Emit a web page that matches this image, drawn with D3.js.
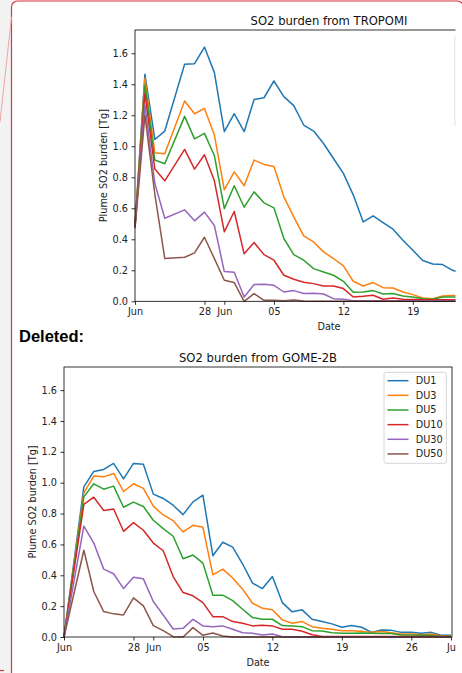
<!DOCTYPE html>
<html>
<head>
<meta charset="utf-8">
<script src="https://cdn.jsdelivr.net/npm/d3@7"></script>
<style>
  html, body { margin: 0; padding: 0; background: #f2f2f2; }
  svg { display: block; }
  text { font-family: "DejaVu Sans", sans-serif; }
</style>
</head>
<body>
<svg id="chart" width="462" height="673"></svg>
<script>
// ---------------- DATA ----------------
const seriesNames = ["DU1", "DU3", "DU5", "DU10", "DU30", "DU50"];
const seriesColors = ["#1f77b4", "#ff7f0e", "#2ca02c", "#d62728", "#9467bd", "#8c564b"];

const xTickDays = [0, 7, 9, 14, 21, 28, 35, 39];
const xTickLabels = ["Jun", "28", "Jun", "05", "12", "19", "26", "Ju"];
const yTicks = [0, 0.2, 0.4, 0.6, 0.8, 1.0, 1.2, 1.4, 1.6];

// TROPOMI (days since first tick)
const tropDays = [0, 1, 2, 3, 5, 6, 7, 8, 9, 10, 11, 12, 13, 14, 15, 16, 17, 18, 19, 20, 21, 22, 23, 24, 25, 26, 27, 28, 29, 30, 31, 32, 33];
const tropDU1  = [0.49, 1.464, 1.044, 1.098, 1.529, 1.533, 1.640, 1.475, 1.094, 1.210, 1.094, 1.302, 1.313, 1.421, 1.320, 1.262, 1.137, 1.098, 1.018, 0.921, 0.825, 0.685, 0.512, 0.551, 0.508, 0.465, 0.394, 0.329, 0.263, 0.241, 0.237, 0.200, 0.180];
const tropDU3  = [0.49, 1.438, 0.958, 0.952, 1.292, 1.210, 1.244, 1.072, 0.719, 0.835, 0.745, 0.911, 0.883, 0.870, 0.674, 0.545, 0.422, 0.383, 0.319, 0.276, 0.228, 0.129, 0.099, 0.121, 0.088, 0.086, 0.060, 0.043, 0.022, 0.017, 0.034, 0.037, 0.037];
const tropDU5  = [0.49, 1.395, 0.911, 0.887, 1.193, 1.048, 1.083, 0.939, 0.598, 0.745, 0.607, 0.706, 0.635, 0.603, 0.405, 0.301, 0.265, 0.211, 0.189, 0.168, 0.129, 0.058, 0.060, 0.069, 0.047, 0.050, 0.034, 0.028, 0.017, 0.013, 0.028, 0.028, 0.028];
const tropDU10 = [0.48, 1.341, 0.853, 0.777, 0.980, 0.853, 0.945, 0.777, 0.448, 0.579, 0.306, 0.379, 0.301, 0.265, 0.168, 0.142, 0.123, 0.114, 0.099, 0.099, 0.082, 0.028, 0.032, 0.039, 0.013, 0.022, 0.013, 0.011, 0.010, 0.010, 0.010, 0.010, 0.010];
const tropDU30 = [0.48, 1.266, 0.760, 0.536, 0.590, 0.519, 0.575, 0.489, 0.192, 0.187, 0.028, 0.108, 0.110, 0.103, 0.060, 0.069, 0.050, 0.052, 0.047, 0.017, 0.013, 0.003, 0.003, 0.003, 0.003, 0.003, 0.003, 0.003, 0.003, 0.003, 0.003, 0.003, 0.003];
const tropDU50 = [0.47, 1.201, 0.690, 0.276, 0.284, 0.312, 0.413, 0.275, 0.136, 0.121, 0.000, 0.050, 0.006, 0.006, 0.004, 0.009, 0.002, 0.000, 0.000, 0.000, 0.000, 0.000, 0.000, 0.000, 0.000, 0.000, 0.000, 0.000, 0.000, 0.000, 0.000, 0.000, 0.000];

// GOME-2B
const gomeDays = [0, 2, 3, 4, 5, 6, 7, 8, 9, 10, 11, 12, 13, 14, 15, 16, 17, 18, 19, 20, 21, 22, 23, 24, 25, 26, 27, 28, 29, 30, 31, 32, 33, 34, 35, 36, 37, 38, 39];
const gomeDU1  = [0, 0.973, 1.073, 1.086, 1.125, 1.025, 1.125, 1.119, 0.926, 0.898, 0.854, 0.793, 0.876, 0.919, 0.527, 0.614, 0.583, 0.473, 0.349, 0.314, 0.392, 0.223, 0.163, 0.176, 0.115, 0.100, 0.085, 0.063, 0.074, 0.063, 0.030, 0.046, 0.043, 0.030, 0.030, 0.024, 0.030, 0.011, 0.011];
const gomeDU3  = [0, 0.934, 1.043, 1.038, 1.060, 0.943, 0.993, 0.963, 0.848, 0.791, 0.754, 0.681, 0.724, 0.711, 0.403, 0.440, 0.382, 0.310, 0.219, 0.186, 0.176, 0.111, 0.089, 0.100, 0.067, 0.056, 0.050, 0.041, 0.041, 0.037, 0.030, 0.035, 0.028, 0.020, 0.020, 0.015, 0.020, 0.007, 0.007];
const gomeDU5  = [0, 0.908, 0.993, 0.958, 0.978, 0.841, 0.874, 0.846, 0.757, 0.702, 0.653, 0.507, 0.531, 0.479, 0.271, 0.271, 0.236, 0.180, 0.126, 0.115, 0.115, 0.074, 0.072, 0.067, 0.041, 0.039, 0.028, 0.024, 0.024, 0.026, 0.024, 0.022, 0.022, 0.013, 0.013, 0.011, 0.011, 0.004, 0.006];
const gomeDU10 = [0, 0.859, 0.906, 0.820, 0.830, 0.685, 0.741, 0.692, 0.609, 0.559, 0.392, 0.288, 0.267, 0.223, 0.132, 0.132, 0.100, 0.089, 0.072, 0.076, 0.072, 0.050, 0.050, 0.037, 0.015, 0.004, 0.003, 0.003, 0.003, 0.003, 0.003, 0.003, 0.003, 0.003, 0.003, 0.003, 0.003, 0.003, 0.003];
const gomeDU30 = [0, 0.718, 0.609, 0.440, 0.410, 0.314, 0.388, 0.377, 0.230, 0.143, 0.052, 0.056, 0.115, 0.072, 0.067, 0.072, 0.050, 0.028, 0.024, 0.013, 0.020, 0.002, 0.000, 0.000, 0.000, 0.000, 0.000, 0.000, 0.000, 0.000, 0.000, 0.000, 0.000, 0.000, 0.000, 0.000, 0.000, 0.000, 0.000];
const gomeDU50 = [0, 0.562, 0.295, 0.165, 0.150, 0.143, 0.254, 0.202, 0.074, 0.041, 0.002, 0.000, 0.061, 0.011, 0.026, 0.007, 0.000, 0.000, 0.000, 0.000, 0.000, 0.000, 0.000, 0.000, 0.000, 0.000, 0.000, 0.000, 0.000, 0.000, 0.000, 0.000, 0.000, 0.000, 0.000, 0.000, 0.000, 0.000, 0.000];

const tropSeries = [tropDU1, tropDU3, tropDU5, tropDU10, tropDU30, tropDU50];
const gomeSeries = [gomeDU1, gomeDU3, gomeDU5, gomeDU10, gomeDU30, gomeDU50];

// ---------------- DRAW ----------------
const svg = d3.select("#chart");
const W = 462, H = 673;

// balloon frame
svg.append("rect").attr("x", 0).attr("y", 0).attr("width", W).attr("height", H).attr("fill", "#f2f2f2");
svg.append("rect")
  .attr("x", 11.5).attr("y", 1).attr("width", 452).attr("height", 720)
  .attr("rx", 6).attr("ry", 6)
  .attr("fill", "#ffffff").attr("stroke", "#d9363e").attr("stroke-width", 1.2);
svg.append("line").attr("x1", 11.5).attr("y1", 17).attr("x2", 0).attr("y2", 122)
  .attr("stroke", "#eea5a8").attr("stroke-width", 1);
svg.append("line").attr("x1", 0).attr("y1", 670.5).attr("x2", 4).attr("y2", 670.5)
  .attr("stroke", "#d9363e").attr("stroke-width", 1.2);

const defs = svg.append("defs");

function drawPanel(opts) {
  const { id, left, top, width, height, clipRight, title, days, series, legendText } = opts;
  defs.append("clipPath").attr("id", "clip-" + id)
    .append("rect").attr("x", 0).attr("y", 0).attr("width", clipRight).attr("height", H);

  const root = svg.append("g").attr("clip-path", `url(#clip-${id})`);
  const g = root.append("g").attr("transform", `translate(${left},${top})`);

  const x = d3.scaleLinear().domain([0, 39.1]).range([0, width]);
  const y = d3.scaleLinear().domain([0, 1.75]).range([height, 0]);

  // lines
  const line = d3.line().x((d, i) => x(days[i])).y(d => y(d));
  series.forEach((vals, k) => {
    g.append("path").datum(vals)
      .attr("fill", "none")
      .attr("stroke", seriesColors[k])
      .attr("stroke-width", 1.5)
      .attr("stroke-linejoin", "round")
      .attr("d", line);
  });

  // axes (only ticks that fall inside the visible area)
  const visIdx = xTickDays.map((d, i) => i).filter(i => left + x(xTickDays[i]) < clipRight - 2);
  const xAxis = d3.axisBottom(x).tickValues(visIdx.map(i => xTickDays[i]))
    .tickFormat(d => xTickLabels[xTickDays.indexOf(d)]).tickSize(3.5).tickPadding(3.5);
  const gx = g.append("g").attr("transform", `translate(0,${height})`).call(xAxis);
  const yAxis = d3.axisLeft(y).tickValues(yTicks).tickFormat(d3.format(".1f")).tickSize(3.5).tickPadding(3.5);
  const gy = g.append("g").call(yAxis);
  [gx, gy].forEach(a => {
    a.select(".domain").remove();
    a.selectAll(".tick line").attr("stroke", "#000").attr("stroke-width", 0.8);
    a.selectAll(".tick text").attr("fill", "#222").style("font-size", "9.7px")
      .style("font-family", "'DejaVu Sans', sans-serif");
  });

  // spines
  g.append("rect").attr("x", 0).attr("y", 0).attr("width", width).attr("height", height)
    .attr("fill", "none").attr("stroke", "#000").attr("stroke-width", 0.8);

  // title and labels
  g.append("text").attr("x", width / 2).attr("y", -5.2).attr("text-anchor", "middle")
    .style("font-size", "11.6px").attr("fill", "#111").text(title);
  g.append("text").attr("x", width / 2).attr("y", height + 28.5).attr("text-anchor", "middle")
    .style("font-size", "9.7px").attr("fill", "#222").text("Date");
  g.append("text").attr("transform", `translate(${-28},${height / 2}) rotate(-90)`)
    .attr("text-anchor", "middle").style("font-size", "9.7px").attr("fill", "#222")
    .text("Plume SO2 burden [Tg]");

  // legend
  const lg = g.append("g").attr("transform", `translate(${width - 68},5.3)`);
  lg.append("rect").attr("x", 0).attr("y", 0).attr("width", 62.4).attr("height", 91)
    .attr("rx", 2).attr("ry", 2)
    .attr("fill", "rgba(255,255,255,0.8)").attr("stroke", "#cccccc").attr("stroke-width", 0.8);
  if (legendText) {
    seriesNames.forEach((name, k) => {
      const yy = 8.4 + k * 14.65;
      lg.append("line").attr("x1", 3.5).attr("x2", 24.5).attr("y1", yy).attr("y2", yy)
        .attr("stroke", seriesColors[k]).attr("stroke-width", 1.5);
      lg.append("text").attr("x", 31.7).attr("y", yy).attr("dy", "0.35em")
        .style("font-size", "9.7px").attr("fill", "#222").text(name);
    });
  }
}

drawPanel({ id: "trop", left: 135, top: 30, width: 388, height: 271.3, clipRight: 455.5,
  title: "SO2 burden from TROPOMI", days: tropDays, series: tropSeries, legendText: false });

svg.append("text").attr("x", 19).attr("y", 341.5)
  .style("font-family", "'Liberation Sans', Arial, sans-serif")
  .style("font-weight", "bold").style("font-size", "16.5px").attr("fill", "#000")
  .text("Deleted:");

drawPanel({ id: "gome", left: 64, top: 367, width: 388, height: 270, clipRight: 460,
  title: "SO2 burden from GOME-2B", days: gomeDays, series: gomeSeries, legendText: true });
</script>
</body>
</html>
